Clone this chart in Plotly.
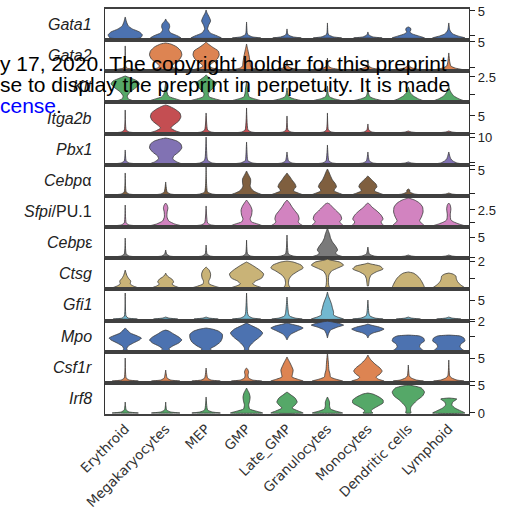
import plotly.graph_objects as go
from plotly.subplots import make_subplots

CATEGORIES = ["Erythroid", "Megakaryocytes", "MEP", "GMP", "Late_GMP",
              "Granulocytes", "Monocytes", "Dendritic cells", "Lymphoid"]

GENE_LABELS = ["<i>Gata1</i>", "<i>Gata2</i>", "<i>Kit</i>", "<i>Itga2b</i>", "<i>Pbx1</i>",
               "<i>Cebp</i>α", "<i>Sfpi</i>/PU.1", "<i>Cebp</i>ε", "<i>Ctsg</i>", "<i>Gfi1</i>",
               "<i>Mpo</i>", "<i>Csf1r</i>", "<i>Irf8</i>"]

COLORS = ["#4c72b0", "#dd8452", "#55a868", "#c44e52", "#8172b3", "#7f5f3f", "#d283c0",
          "#7a7a7a", "#c9b377", "#72b8d0", "#4c72b0", "#dd8452", "#55a868"]

# violin profiles per gene: for each category a list of [expression, relative density]
GATA1 = [
    [[0, .94], [.56, 1.06], [1.11, .88], [1.67, .44], [2.22, .19], [2.96, .08], [3.89, 0]],
    [[0, .94], [.37, .75], [.93, .31], [1.48, .19], [2.04, .25], [2.59, .22], [3.15, .06], [3.52, 0]],
    [[0, .94], [.37, .69], [.93, .25], [1.67, .09], [2.41, .16], [3.15, .28], [3.89, .19], [4.63, .06], [5.19, 0]],
    [[0, .88], [.19, .38], [.56, .09], [.93, .04], [2.96, 0]],
    [[0, .88], [.19, .38], [.56, .08], [.93, .03], [1.67, 0]],
    [[0, .88], [.19, .38], [.56, .08], [.93, .03], [2.78, 0]],
    [[0, .88], [.19, .31], [.56, .06], [1.11, 0]],
    [[0, 1], [.37, .63], [.74, .25], [1.11, .09], [1.48, .16], [1.85, .13], [2.04, 0]],
    [[0, 1], [.37, .56], [.74, .25], [1.11, .13], [1.48, .06], [2.78, 0]],
]
GATA2 = [
    [[0, .88], [.18, .38], [.36, .09], [.71, .03], [4.29, 0]],
    [[0, .94], [.36, .5], [.71, .38], [1.25, .56], [1.96, .88], [2.68, 1.0], [3.39, .94], [4.11, .69], [4.64, .31], [4.82, 0]],
    [[0, .88], [.36, .38], [.71, .19], [1.25, .38], [1.96, .69], [2.68, .81], [3.39, .75], [4.11, .38], [4.64, .13], [5.0, 0]],
    [[0, .88], [.36, .38], [.71, .25], [1.43, .22], [2.5, .16], [3.57, .08], [4.64, 0]],
    [[0, .88], [.36, .25], [.71, .06], [1.79, 0]],
    [[0, .88], [.36, .25], [.71, .06], [2.14, 0]],
    [[0, .88], [.36, .25], [.71, .06], [1.79, 0]],
    [[0, .81], [.36, .25], [.71, .06], [1.43, 0]],
    [[0, .94], [.36, .38], [.71, .13], [1.43, .06], [3.04, 0]],
]
KIT = [
    [[0, .5], [.21, .19], [.52, .13], [.94, .31], [1.35, .63], [1.77, .88], [2.08, .75], [2.4, .31], [2.6, 0]],
    [[0, 1], [.21, .63], [.42, .25], [.63, .13], [1.15, .06], [1.98, 0]],
    [[0, 1], [.21, .56], [.42, .19], [.73, .13], [1.04, .25], [1.46, .5], [1.88, .63], [2.19, .38], [2.5, .13], [2.71, 0]],
    [[0, .94], [.21, .5], [.42, .16], [.83, .09], [1.35, .06], [1.98, 0]],
    [[0, .94], [.21, .44], [.42, .13], [.73, .05], [1.35, 0]],
    [[0, .94], [.21, .44], [.42, .13], [.73, .05], [1.56, 0]],
    [[0, .94], [.21, .44], [.42, .13], [.73, .05], [1.35, 0]],
    [[0, .94], [.21, .63], [.52, .31], [.83, .13], [1.15, .06], [1.46, 0]],
    [[0, .94], [.21, .63], [.52, .31], [.83, .16], [1.15, .06], [1.56, 0]],
]
ITGA2B = [
    [[0, .81], [.29, .25], [.88, .06], [6.76, 0]],
    [[0, 1], [.59, .63], [1.47, .31], [2.35, .5], [3.53, .81], [4.71, .94], [5.88, .88], [7.06, .56], [7.94, .19], [8.24, 0]],
    [[0, .81], [.29, .31], [.88, .09], [5.88, 0]],
    [[0, .81], [.29, .31], [.88, .09], [7.35, 0]],
    [[0, .81], [.29, .25], [.88, .06], [5.0, 0]],
    [[0, .81], [.29, .25], [.88, .06], [5.88, 0]],
    [[0, .81], [.29, .25], [.88, .06], [2.65, 0]],
    [[0, .75], [.29, .19], [.59, 0]],
    [[0, .75], [.29, .19], [.59, 0]],
]
PBX1 = [
    [[0, .81], [.37, .25], [1.11, .06], [5.19, 0]],
    [[0, 1], [.74, .69], [1.85, .44], [2.96, .5], [4.44, .81], [5.93, 1], [7.41, .94], [8.52, .69], [9.26, .31], [9.63, 0]],
    [[0, .88], [.37, .38], [1.11, .13], [2.22, .06], [10.0, 0]],
    [[0, .88], [.37, .38], [1.11, .09], [2.22, .05], [8.15, 0]],
    [[0, .81], [.37, .31], [1.11, .09], [4.44, 0]],
    [[0, .81], [.37, .31], [1.11, .09], [7.04, 0]],
    [[0, .81], [.37, .31], [1.11, .09], [4.44, 0]],
    [[0, .75], [.37, .19], [.74, 0]],
    [[0, .88], [.37, .5], [1.11, .25], [1.85, .13], [2.96, .06], [4.44, 0]],
]
CEBPA = [
    [[0, .81], [.2, .25], [.6, .06], [4.4, 0]],
    [[0, .81], [.2, .31], [.6, .09], [2.6, 0]],
    [[0, .88], [.2, .38], [.6, .09], [5.6, 0]],
    [[0, 1], [.4, .69], [.8, .44], [1.2, .31], [1.8, .22], [2.4, .25], [3.2, .25], [3.8, .16], [4.4, .06], [4.8, 0]],
    [[0, 1], [.4, .69], [.8, .41], [1.2, .44], [1.6, .56], [2.2, .5], [3.0, .31], [3.6, .19], [4.0, .09], [4.4, 0]],
    [[0, 1], [.4, .69], [.8, .41], [1.2, .44], [1.6, .56], [2.2, .5], [3.0, .31], [3.8, .19], [4.6, .09], [5.2, 0]],
    [[0, 1], [.4, .69], [.8, .41], [1.2, .44], [1.6, .56], [2.2, .5], [2.8, .31], [3.4, .13], [3.8, 0]],
    [[0, .88], [.2, .38], [.6, .09], [1.0, .09], [1.2, 0]],
    [[0, .75], [.2, .19], [.4, 0]],
]
SFPI = [
    [[0, .81], [.16, .25], [.47, .06], [3.28, 0]],
    [[0, 1], [.31, .56], [.78, .19], [1.41, .08], [2.19, .09], [2.81, .14], [3.28, .09], [3.59, 0]],
    [[0, .88], [.16, .31], [.47, .09], [3.13, 0]],
    [[0, 1], [.31, .69], [.63, .31], [1.09, .22], [1.72, .31], [2.5, .34], [3.13, .25], [3.75, .09], [4.06, 0]],
    [[0, 1], [.31, .81], [.63, .69], [1.09, .75], [1.72, .69], [2.34, .5], [2.97, .31], [3.59, .16], [4.06, 0]],
    [[0, 1], [.31, .88], [.63, .75], [1.09, .88], [1.72, .81], [2.34, .56], [2.97, .31], [3.44, .13], [3.59, 0]],
    [[0, 1], [.31, .88], [.63, .81], [1.09, .94], [1.72, .81], [2.34, .56], [2.97, .25], [3.44, .09], [3.59, 0]],
    [[0, 1], [.31, .88], [.78, .69], [1.41, .81], [2.19, .91], [2.97, .88], [3.59, .69], [4.06, .38], [4.38, 0]],
    [[0, 1], [.31, .63], [.63, .31], [.94, .13], [1.72, .09], [2.66, .13], [3.28, .09], [3.59, 0]],
]
CEBPE = [
    [[0, .81], [.25, .25], [.75, .06], [4.75, 0]],
    [[0, .81], [.25, .25], [.75, .06], [1.75, 0]],
    [[0, .81], [.25, .25], [.75, .06], [3.0, 0]],
    [[0, .81], [.25, .25], [.75, .06], [4.25, 0]],
    [[0, .88], [.25, .38], [.75, .09], [5.5, 0]],
    [[0, 1], [.5, .63], [1.0, .5], [1.75, .63], [2.75, .5], [3.75, .31], [4.75, .19], [5.75, .13], [6.5, .06], [7.25, 0]],
    [[0, .88], [.25, .38], [.75, .09], [2.5, 0]],
    [[0, .75], [.25, .19], [.5, 0]],
    [[0, .75], [.25, .19], [.5, 0]],
]
CTSG = [
    [[0, .81], [.15, .5], [.3, .31], [.52, .34], [.74, .19], [.96, .09], [1.33, 0]],
    [[0, .88], [.15, .56], [.3, .38], [.44, .5], [.67, .38], [.81, .19], [.96, .06], [1.11, 0]],
    [[0, .88], [.15, .5], [.3, .19], [.52, .16], [.74, .25], [1.04, .28], [1.33, .19], [1.56, 0]],
    [[0, 1], [.15, .63], [.3, .38], [.52, .56], [.74, .94], [1.04, 1.06], [1.33, .81], [1.63, .44], [1.85, .13], [1.93, 0]],
    [[0, .25], [.15, .13], [.37, .09], [.67, .13], [.96, .31], [1.26, .69], [1.48, 1], [1.7, .88], [1.93, .38], [2.0, 0]],
    [[0, .13], [.22, .08], [.59, .06], [.96, .09], [1.26, .25], [1.48, .63], [1.7, 1], [1.93, .75], [2.07, .19], [2.15, 0]],
    [[.15, .03], [.37, .06], [.67, .09], [.96, .19], [1.19, .5], [1.41, .94], [1.63, .75], [1.78, .19], [1.85, 0]],
    [[0, 1], [.22, .94], [.52, .81], [.74, .69], [.96, .5], [1.11, .31], [1.19, 0]],
    [[0, 1], [.22, .75], [.44, .56], [.67, .47], [.89, .44], [1.04, .25], [1.11, 0]],
]
GFI1 = [
    [[0, .75], [.26, .19], [.79, .05], [6.84, 0]],
    [[0, .75], [.26, .19], [.53, 0]],
    [[0, .75], [.26, .19], [.53, 0]],
    [[0, .88], [.26, .38], [.79, .13], [1.58, .06], [6.84, 0]],
    [[0, .94], [.26, .5], [.79, .16], [1.58, .09], [2.63, .06], [5.79, 0]],
    [[0, 1], [.53, .63], [1.05, .38], [1.84, .38], [2.89, .31], [3.95, .25], [5.0, .16], [6.05, .06], [7.11, 0]],
    [[0, .94], [.26, .44], [.79, .13], [1.58, .06], [5.0, 0]],
    [[0, .75], [.26, .19], [.53, 0]],
    [[0, .75], [.26, .19], [.53, 0]],
]
MPO = [
    [[0, .19], [.14, .09], [.34, .19], [.54, .5], [.75, .88], [.88, 1], [1.02, .75], [1.22, .31], [1.42, .13], [1.56, 0]],
    [[0, .31], [.14, .19], [.34, .44], [.54, .81], [.75, 1], [.95, .81], [1.15, .5], [1.36, .19], [1.42, 0]],
    [[0, .38], [.14, .25], [.34, .56], [.61, .88], [.88, 1], [1.15, 1], [1.36, .75], [1.49, .38], [1.56, 0]],
    [[0, .13], [.2, .13], [.41, .25], [.68, .5], [.95, .81], [1.22, 1], [1.49, .75], [1.69, .38], [1.9, 0]],
    [[.75, 0], [.95, .09], [1.15, .25], [1.36, .63], [1.56, 1], [1.69, .75], [1.83, .25], [1.9, 0]],
    [[.88, 0], [1.15, .06], [1.42, .19], [1.63, .63], [1.76, 1], [1.9, .63], [2.0, .19], [2.03, 0]],
    [[.88, 0], [1.08, .09], [1.22, .31], [1.36, .75], [1.49, 1], [1.63, .69], [1.76, .19], [1.83, 0]],
    [[0, 1], [.07, .88], [.27, .69], [.47, .75], [.68, 1], [.88, .94], [1.02, .69], [1.08, 0]],
    [[0, 1], [.07, .88], [.27, .69], [.47, .75], [.68, 1], [.88, .94], [1.02, .69], [1.08, 0]],
]
CSF1R = [
    [[0, .81], [.22, .25], [.65, .06], [5.0, 0]],
    [[0, .88], [.22, .31], [.65, .09], [2.39, 0]],
    [[0, .88], [.22, .31], [.65, .09], [2.83, 0]],
    [[0, .94], [.22, .38], [.65, .13], [1.3, .09], [1.96, .13], [2.61, .06], [2.83, 0]],
    [[0, 1], [.43, .63], [.87, .31], [1.52, .34], [2.39, .38], [3.26, .28], [4.13, .16], [4.78, .06], [5.22, 0]],
    [[0, .94], [.43, .5], [.87, .19], [1.52, .16], [2.39, .09], [3.91, .06], [6.09, 0]],
    [[0, 1], [.43, .63], [.87, .5], [1.52, .75], [2.17, .88], [2.83, .75], [3.7, .44], [4.57, .19], [5.22, .06], [5.65, 0]],
    [[0, .94], [.22, .5], [.65, .19], [1.09, .06], [3.48, 0]],
    [[0, .94], [.22, .5], [.65, .19], [1.09, .06], [4.57, 0]],
]
IRF8 = [
    [[0, .81], [.18, .25], [.54, .06], [1.96, 0]],
    [[0, .88], [.18, .31], [.54, .06], [1.96, 0]],
    [[0, .88], [.18, .38], [.54, .09], [2.86, 0]],
    [[0, 1], [.36, .56], [.71, .19], [1.43, .13], [2.14, .19], [2.86, .22], [3.57, .16], [4.11, .06], [4.46, 0]],
    [[0, 1], [.36, .69], [.89, .31], [1.43, .5], [1.96, .63], [2.68, .5], [3.21, .25], [3.75, 0]],
    [[0, .94], [.36, .5], [.71, .19], [1.25, .13], [1.96, .13], [2.5, .06], [2.86, 0]],
    [[0, .31], [.36, .19], [.71, .31], [1.25, .63], [1.79, .94], [2.32, .94], [2.86, .69], [3.39, .31], [3.57, 0]],
    [[0, .16], [.54, .13], [1.07, .16], [1.61, .31], [2.32, .56], [3.04, .88], [3.75, 1], [4.46, .81], [4.82, .38], [5.0, 0]],
    [[0, 1], [.36, .75], [.89, .38], [1.43, .19], [1.96, .25], [2.5, .5], [2.68, 0]],
]
PROFILES = [GATA1, GATA2, KIT, ITGA2B, PBX1, CEBPA, SFPI, CEBPE, CTSG, GFI1, MPO, CSF1R, IRF8]

# right-hand axis of each row
Y_RANGES = [[-0.41, 5.37], [-0.23, 5.32], [-0.16, 3.09], [-0.18, 8.97], [-0.3, 11.26],
            [-0.18, 6.04], [-0.17, 4.7], [-0.3, 7.48], [-0.1, 2.21], [-0.39, 7.79],
            [-0.05, 2.07], [-0.39, 6.37], [-0.18, 5.39]]
TICK_VALS = [[0.46, 5], [0.36, 5], [0.63, 2.5], [0, 5], [0.37, 10], [0.4, 5, 5.8], [0.47, 2.5],
             [0, 5], [0.74, 2], [0, 5], [0.95, 2], [0, 5], [0, 5]]
TICK_TEXT = [["", "5"], ["", "5"], ["", "2.5"], ["", "5"], ["", "10"], ["", "5", ""], ["", "2.5"],
             ["", "5"], ["", "2"], ["", "5"], ["", "2"], ["", "5"], ["0", "5"]]

WATERMARK = ["y 17, 2020. The copyright holder for this preprint",
             "se to display the preprint in perpetuity. It is made",
             "<span style='color:#0000ff'>cense</span>."]

N = len(PROFILES)
HALF = 0.4
fig = make_subplots(rows=N, cols=1, shared_xaxes=True, vertical_spacing=0)

for r, gene in enumerate(PROFILES):
    for c, prof in enumerate(gene):
        vals = [p[0] for p in prof]
        dens = [p[1] for p in prof]
        xs = [c + d * HALF for d in dens] + [c - d * HALF for d in reversed(dens)]
        ys = vals + vals[::-1]
        xs.append(xs[0])
        ys.append(ys[0])
        fig.add_trace(go.Scatter(
            x=xs, y=ys, mode="lines", fill="toself", fillcolor=COLORS[r],
            line=dict(color="#3c3c3c", width=0.8, shape="spline", smoothing=0.5),
            hoverinfo="skip", showlegend=False), row=r + 1, col=1)

for r in range(N):
    fig.update_yaxes(row=r + 1, col=1, side="right", range=Y_RANGES[r], automargin=False,
                     tickvals=TICK_VALS[r], ticktext=TICK_TEXT[r],
                     ticks="outside", ticklen=5, tickwidth=1, tickcolor="#222",
                     showline=True, linecolor="#333", linewidth=1.4, mirror=True,
                     showgrid=False, zeroline=False,
                     tickfont=dict(family="Liberation Sans, Arial", size=13, color="#222"))
    fig.update_xaxes(row=r + 1, col=1, range=[-0.5, 8.5], showline=True, mirror=True,
                     automargin=False,
                     linecolor="#404040", linewidth=1.5, showgrid=False, zeroline=False,
                     tickvals=list(range(len(CATEGORIES))), ticktext=CATEGORIES, ticks="")
    fig.add_annotation(text=GENE_LABELS[r], xref="paper", x=-0.03, xanchor="right",
                       yref=f"y{'' if r == 0 else r + 1} domain", y=0.5, yanchor="middle",
                       showarrow=False,
                       font=dict(family="Liberation Sans, Arial", size=16, color="#222"))

fig.update_xaxes(row=N, col=1, tickangle=-45,
                 tickfont=dict(family="DejaVu Sans", size=13.5, color="#333"))

WM_Y = [0.865, 0.8125, 0.761]
for t, yy in zip(WATERMARK, WM_Y):
    fig.add_annotation(text=t, xref="paper", x=-0.294, xanchor="left",
                       yref="paper", y=yy, yanchor="middle", showarrow=False,
                       font=dict(family="Liberation Sans, Arial", size=21, color="#000"))

fig.update_layout(width=515, height=512, margin=dict(l=105, r=46, t=9, b=98),
                  paper_bgcolor="white", plot_bgcolor="white")
fig.write_html("out.html")
